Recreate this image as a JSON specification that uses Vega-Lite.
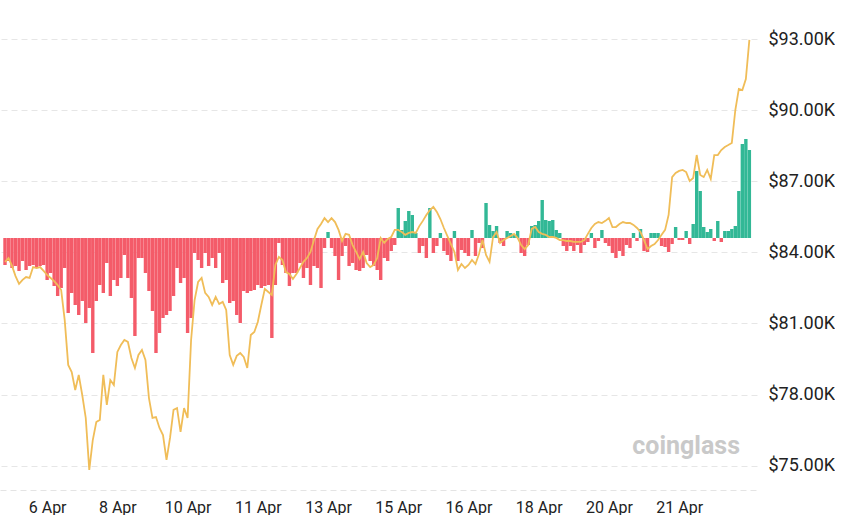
{
  "$schema": "https://vega.github.io/schema/vega-lite/v6.json",
  "width": 757,
  "height": 490,
  "padding": 0,
  "background": "#ffffff",
  "config": {"view": {"stroke": null}, "font": "Roboto"},
  "datasets": {
    "flow": [
      {"h":0,"p":83.60,"v":-27},{"h":2,"p":83.76,"v":-23},{"h":4,"p":83.43,"v":-30},{"h":6,"p":83.00,"v":-28},
      {"h":8,"p":82.67,"v":-33},{"h":10,"p":82.84,"v":-23},{"h":12,"p":82.96,"v":-32},{"h":14,"p":82.92,"v":-28},
      {"h":16,"p":83.38,"v":-27},{"h":18,"p":83.34,"v":-30},{"h":20,"p":83.38,"v":-28},{"h":22,"p":83.22,"v":-27},
      {"h":24,"p":83.05,"v":-42},{"h":26,"p":82.92,"v":-35},{"h":28,"p":82.79,"v":-48},{"h":30,"p":82.62,"v":-58},
      {"h":32,"p":82.41,"v":-50},{"h":34,"p":81.15,"v":-30},{"h":36,"p":79.25,"v":-75},{"h":38,"p":78.95,"v":-55},
      {"h":40,"p":78.19,"v":-67},{"h":42,"p":78.83,"v":-77},{"h":44,"p":77.98,"v":-63},{"h":46,"p":77.01,"v":-85},
      {"h":48,"p":74.82,"v":-70},{"h":50,"p":76.08,"v":-115},{"h":52,"p":76.84,"v":-63},{"h":54,"p":76.93,"v":-47},
      {"h":56,"p":78.83,"v":-55},{"h":58,"p":77.56,"v":-25},{"h":60,"p":78.61,"v":-58},{"h":62,"p":78.40,"v":-42},
      {"h":64,"p":79.80,"v":-48},{"h":66,"p":80.09,"v":-40},{"h":68,"p":80.30,"v":-17},{"h":70,"p":80.22,"v":-40},
      {"h":72,"p":79.54,"v":-60},{"h":74,"p":79.12,"v":-98},{"h":76,"p":79.67,"v":-20},{"h":78,"p":79.88,"v":-20},
      {"h":80,"p":79.46,"v":-35},{"h":82,"p":77.85,"v":-53},{"h":84,"p":77.01,"v":-73},{"h":86,"p":77.05,"v":-115},
      {"h":88,"p":76.59,"v":-95},{"h":90,"p":76.29,"v":-80},{"h":92,"p":75.24,"v":-77},{"h":94,"p":76.17,"v":-73},
      {"h":96,"p":77.35,"v":-58},{"h":98,"p":77.43,"v":-30},{"h":100,"p":76.42,"v":-45},{"h":102,"p":77.43,"v":-40},
      {"h":104,"p":77.01,"v":-95},{"h":106,"p":80.30,"v":-80},{"h":108,"p":81.99,"v":-15},{"h":110,"p":82.75,"v":-22},
      {"h":112,"p":82.92,"v":-30},{"h":114,"p":82.29,"v":-15},{"h":116,"p":82.12,"v":-28},{"h":118,"p":81.78,"v":-20},
      {"h":120,"p":82.12,"v":-30},{"h":122,"p":81.82,"v":-15},{"h":124,"p":81.91,"v":-45},{"h":126,"p":81.57,"v":-42},
      {"h":128,"p":79.67,"v":-65},{"h":130,"p":79.25,"v":-63},{"h":132,"p":79.63,"v":-77},{"h":134,"p":79.75,"v":-85},
      {"h":136,"p":79.59,"v":-53},{"h":138,"p":79.12,"v":-55},{"h":140,"p":80.51,"v":-53},{"h":142,"p":80.64,"v":-52},
      {"h":144,"p":81.06,"v":-47},{"h":146,"p":81.78,"v":-50},{"h":148,"p":82.46,"v":-48},{"h":150,"p":82.33,"v":-47},
      {"h":152,"p":82.20,"v":-100},{"h":154,"p":83.47,"v":-47},{"h":156,"p":83.81,"v":-5},{"h":158,"p":83.68,"v":-27},
      {"h":160,"p":83.17,"v":-35},{"h":162,"p":83.09,"v":-48},{"h":164,"p":82.88,"v":-35},{"h":166,"p":83.09,"v":-35},
      {"h":168,"p":83.34,"v":-25},{"h":170,"p":83.60,"v":-40},{"h":172,"p":83.76,"v":-30},{"h":174,"p":84.02,"v":-47},
      {"h":176,"p":84.52,"v":-28},{"h":178,"p":84.99,"v":-30},{"h":180,"p":85.20,"v":-50},{"h":182,"p":85.45,"v":-10},
      {"h":184,"p":85.28,"v":6},{"h":186,"p":85.45,"v":-10},{"h":188,"p":85.28,"v":-18},{"h":190,"p":84.95,"v":-42},
      {"h":192,"p":84.48,"v":-18},{"h":194,"p":84.78,"v":-8},{"h":196,"p":84.74,"v":-28},{"h":198,"p":84.31,"v":-25},
      {"h":200,"p":84.02,"v":-32},{"h":202,"p":83.72,"v":-33},{"h":204,"p":84.02,"v":-30},{"h":206,"p":83.55,"v":-17},
      {"h":208,"p":83.38,"v":-23},{"h":210,"p":83.47,"v":-28},{"h":212,"p":83.76,"v":-32},{"h":214,"p":84.61,"v":-42},
      {"h":216,"p":84.40,"v":-20},{"h":218,"p":84.57,"v":-23},{"h":220,"p":84.65,"v":-13},{"h":222,"p":84.95,"v":-7},
      {"h":224,"p":84.95,"v":30},{"h":226,"p":84.86,"v":8},{"h":228,"p":84.74,"v":17},{"h":230,"p":84.82,"v":27},
      {"h":232,"p":84.86,"v":23},{"h":234,"p":84.82,"v":5},{"h":236,"p":85.11,"v":-15},{"h":238,"p":85.33,"v":-8},
      {"h":240,"p":85.58,"v":-20},{"h":242,"p":85.79,"v":30},{"h":244,"p":85.92,"v":-15},{"h":246,"p":85.71,"v":-8},
      {"h":248,"p":85.41,"v":5},{"h":250,"p":85.03,"v":-13},{"h":252,"p":84.69,"v":-17},{"h":254,"p":84.35,"v":-23},
      {"h":256,"p":84.02,"v":7},{"h":258,"p":83.26,"v":-23},{"h":260,"p":83.51,"v":-12},{"h":262,"p":83.34,"v":-15},
      {"h":264,"p":83.47,"v":-18},{"h":266,"p":83.68,"v":8},{"h":268,"p":83.51,"v":-18},{"h":270,"p":83.93,"v":-5},
      {"h":272,"p":84.52,"v":-10},{"h":274,"p":83.89,"v":35},{"h":276,"p":83.60,"v":13},{"h":278,"p":84.65,"v":7},
      {"h":280,"p":84.86,"v":12},{"h":282,"p":84.40,"v":-5},{"h":284,"p":84.52,"v":-8},{"h":286,"p":84.61,"v":7},
      {"h":288,"p":84.69,"v":5},{"h":290,"p":84.78,"v":3},{"h":292,"p":84.61,"v":7},{"h":294,"p":84.31,"v":-15},
      {"h":296,"p":84.14,"v":-18},{"h":298,"p":84.31,"v":-7},{"h":300,"p":84.99,"v":12},{"h":302,"p":85.07,"v":13},
      {"h":304,"p":84.86,"v":17},{"h":306,"p":84.78,"v":38},{"h":308,"p":84.74,"v":18},{"h":310,"p":84.65,"v":17},
      {"h":312,"p":84.65,"v":18},{"h":314,"p":84.61,"v":8},{"h":316,"p":84.52,"v":5},{"h":318,"p":84.52,"v":-8},
      {"h":320,"p":84.48,"v":-13},{"h":322,"p":84.48,"v":-8},{"h":324,"p":84.44,"v":-13},{"h":326,"p":84.44,"v":-7},
      {"h":328,"p":84.44,"v":-15},{"h":330,"p":84.52,"v":-7},{"h":332,"p":84.78,"v":-4},{"h":334,"p":85.03,"v":5},
      {"h":336,"p":85.20,"v":-10},{"h":338,"p":85.28,"v":-3},{"h":340,"p":85.24,"v":8},{"h":342,"p":85.33,"v":-5},
      {"h":344,"p":85.45,"v":-8},{"h":346,"p":85.07,"v":-15},{"h":348,"p":85.07,"v":-20},{"h":350,"p":85.20,"v":-13},
      {"h":352,"p":85.28,"v":-18},{"h":354,"p":85.24,"v":-7},{"h":356,"p":85.24,"v":-10},{"h":358,"p":85.16,"v":5},
      {"h":360,"p":85.03,"v":-3},{"h":362,"p":84.86,"v":9},{"h":364,"p":84.52,"v":-13},{"h":366,"p":84.14,"v":-14},
      {"h":368,"p":84.27,"v":5},{"h":370,"p":84.35,"v":5},{"h":372,"p":84.52,"v":5},{"h":374,"p":84.74,"v":-8},
      {"h":376,"p":84.95,"v":-9},{"h":378,"p":85.58,"v":-14},{"h":380,"p":87.18,"v":-6},{"h":382,"p":87.35,"v":11},
      {"h":384,"p":87.44,"v":-2},{"h":386,"p":87.48,"v":-2},{"h":388,"p":87.39,"v":7},{"h":390,"p":87.01,"v":-6},
      {"h":392,"p":87.14,"v":14},{"h":394,"p":88.11,"v":67},{"h":396,"p":87.27,"v":47},{"h":398,"p":87.18,"v":11},
      {"h":400,"p":87.48,"v":6},{"h":402,"p":87.10,"v":9},{"h":404,"p":88.11,"v":-3},{"h":406,"p":88.11,"v":17},
      {"h":408,"p":88.32,"v":-4},{"h":410,"p":88.45,"v":7},{"h":412,"p":88.53,"v":7},{"h":414,"p":88.62,"v":9},
      {"h":416,"p":90.01,"v":12},{"h":418,"p":90.90,"v":47},{"h":420,"p":90.85,"v":94},{"h":422,"p":91.32,"v":99},
      {"h":424,"p":92.97,"v":88}
    ],
    "mark": [{"h": 388, "p": 75.83, "label": "coinglass"}]
  },
  "layer": [
    {
      "data": {"name": "flow"},
      "mark": {"type": "bar", "width": 3.4, "clip": true},
      "encoding": {
        "x": {
          "field": "h", "type": "quantitative",
          "scale": {"domain": [0, 425.5], "nice": false, "zero": false},
          "axis": {
            "title": null,
            "values": [24, 64, 104, 144, 184, 224, 264, 304, 344, 384],
            "labelExpr": "['6 Apr','8 Apr','10 Apr','11 Apr','13 Apr','15 Apr','16 Apr','18 Apr','20 Apr','21 Apr'][round((datum.value-24)/40)]",
            "grid": false, "ticks": false,
            "domain": true, "domainColor": "#e4e4e4", "domainDash": [6, 4], "domainWidth": 1,
            "labelFontSize": 16, "labelColor": "#222222", "labelPadding": 9, "labelFont": "Roboto",
            "labelOverlap": false
          }
        },
        "y": {"field": "v", "type": "quantitative", "scale": {"domain": [-252, 238], "nice": false, "zero": false}, "axis": null},
        "color": {"condition": {"test": "datum.v > 0", "value": "#32b896"}, "value": "#f45b69"}
      }
    },
    {
      "data": {"name": "flow"},
      "mark": {"type": "line", "color": "#f0bd58", "strokeWidth": 1.8, "interpolate": "linear"},
      "encoding": {
        "x": {"field": "h", "type": "quantitative"},
        "y": {
          "field": "p", "type": "quantitative",
          "scale": {"domain": [73.97, 94.654], "nice": false, "zero": false},
          "axis": {
            "orient": "right", "title": null,
            "values": [75, 78, 81, 84, 87, 90, 93],
            "labelExpr": "'$' + format(datum.value, '.2f') + 'K'",
            "grid": true, "gridColor": "#e6e6e6", "gridDash": [6, 4], "gridWidth": 1,
            "domain": false, "ticks": false,
            "labelFontSize": 18, "labelColor": "#222222", "labelPadding": 11, "labelFont": "Roboto"
          }
        }
      }
    },
    {
      "data": {"name": "mark"},
      "mark": {"type": "text", "fontSize": 25, "fontWeight": "bold", "color": "#c9c9c9", "align": "center", "baseline": "middle", "font": "Roboto"},
      "encoding": {
        "x": {"field": "h", "type": "quantitative"},
        "y": {"field": "p", "type": "quantitative", "scale": {"domain": [73.97, 94.654], "nice": false, "zero": false}, "axis": null},
        "text": {"field": "label"}
      }
    }
  ],
  "resolve": {"scale": {"y": "independent"}, "axis": {"y": "independent"}}
}
